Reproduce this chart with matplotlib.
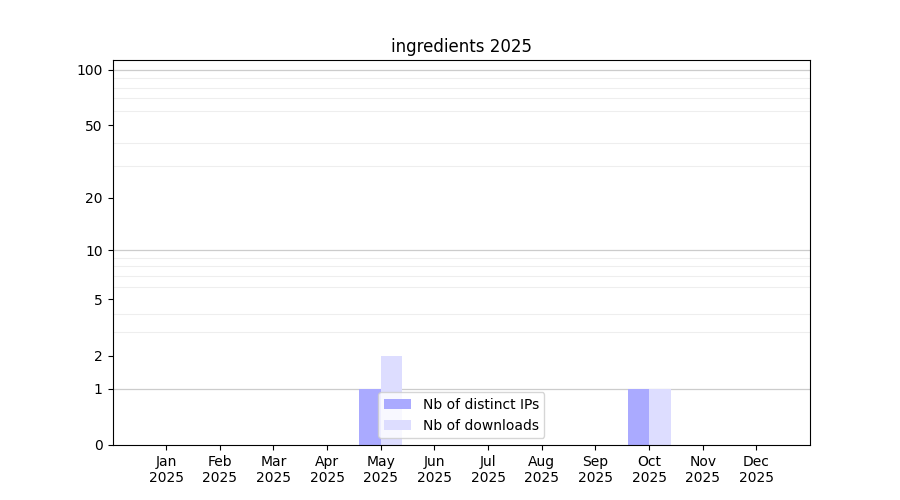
import numpy as np
from matplotlib import pyplot as plt

month_labels = ['Jan\n2025', 'Feb\n2025', 'Mar\n2025', 'Apr\n2025', 'May\n2025', 'Jun\n2025',
                'Jul\n2025', 'Aug\n2025', 'Sep\n2025', 'Oct\n2025', 'Nov\n2025', 'Dec\n2025']
distinct_ips = [0, 0, 0, 0, 1, 0, 0, 0, 0, 1, 0, 0]
downloads = [0, 0, 0, 0, 2, 0, 0, 0, 0, 1, 0, 0]

def fwd(x):
    return np.log10(np.clip(x, 0, None) + 1)

def inv(y):
    return 10 ** y - 1

x = np.arange(len(month_labels))

fig, ax = plt.subplots(figsize=(9, 5), dpi=100)
ax.set_yscale('function', functions=(fwd, inv))

ax.bar(x, distinct_ips, width=-0.4, align='edge', color='#aaaaff', label='Nb of distinct IPs', zorder=2)
ax.bar(x, downloads, width=0.4, align='edge', color='#ddddff', label='Nb of downloads', zorder=2)

# grid
ax.set_yticks([0, 1, 2, 5, 10, 20, 50, 100])
ax.set_yticklabels(['0', '1', '2', '5', '10', '20', '50', '100'])
minor = list(range(2, 10)) + list(range(20, 100, 10))
ax.set_yticks(minor, minor=True)
ax.tick_params(axis='y', which='minor', length=0)
ax.grid(axis='y', which='minor', color='#eeeeee', linewidth=0.8, zorder=0)
for v in [1, 10, 100]:
    ax.axhline(v, color='#cccccc', linewidth=0.9, zorder=1)

ax.set_ylim(0, 113)
ax.set_xlim(-1, 12)
ax.set_xticks(x)
ax.set_xticklabels(month_labels)

ax.set_title('ingredients 2025')
ax.legend(loc='lower center')

plt.savefig('out.png')
